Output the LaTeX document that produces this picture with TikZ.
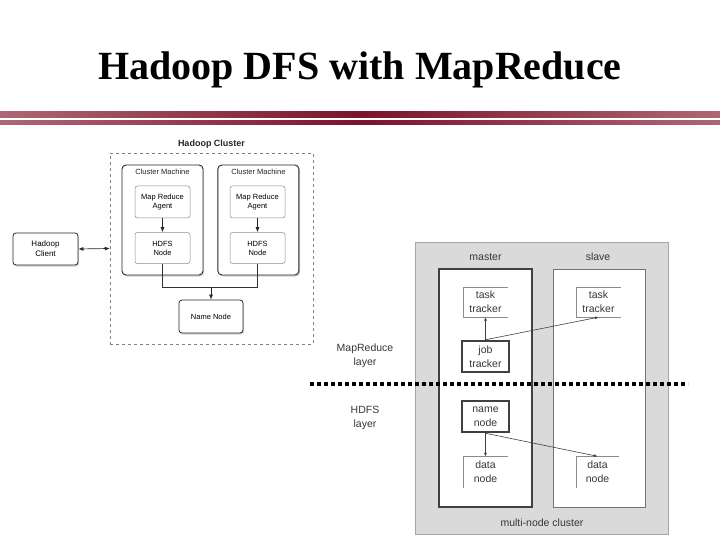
\documentclass[tikz,border=0pt]{standalone}
\usepackage{fontspec}
\setmainfont{Liberation Serif}
\newfontfamily\arial{Liberation Sans}
\usetikzlibrary{arrows.meta, positioning, shadows}
\definecolor{barlight}{RGB}{172,104,118}
\definecolor{bardark}{RGB}{122,20,42}
\definecolor{clgray}{RGB}{218,218,218}
\definecolor{txtgray}{RGB}{55,55,55}

\begin{document}
\begin{tikzpicture}[x=1pt, y=-1pt,
    machine/.style={rectangle, rounded corners=4pt, draw=black!85, line width=0.9pt, fill=white,
        minimum width=81pt, minimum height=110pt,
        drop shadow={shadow xshift=1.2pt, shadow yshift=-1.5pt, opacity=0.35}},
    agent/.style={rectangle, rounded corners=2.5pt, draw=black!45, line width=0.5pt, fill=white,
        minimum width=55pt, minimum height=32pt, inner sep=0pt, align=center,
        font=\arial\fontsize{7.5}{9}\selectfont},
    shadowbox/.style={agent, draw=black!85, line width=0.8pt, rounded corners=3pt,
        drop shadow={shadow xshift=1.2pt, shadow yshift=-1.5pt, opacity=0.35}},
    small/.style={font=\arial\fontsize{7.5}{9}\selectfont, text=black!85},
    lbl/.style={font=\arial\fontsize{10.5}{14}\selectfont, text=txtgray, align=center},
    tracker/.style={lbl, rectangle, minimum width=45pt, minimum height=30pt, inner sep=0pt},
    keynode/.style={tracker, draw=black!75, line width=2.5pt, fill=white, minimum width=47pt, minimum height=31pt},
    half/.style={draw=black!45, line width=0.6pt},
    flow/.style={draw=black!75, line width=0.6pt, -{Latex[length=3.5pt,width=3pt]}},
    link/.style={draw=black!85, line width=0.7pt, -{Latex[length=5pt,width=4pt]}}
]
\useasboundingbox (0,0) rectangle (720,540);

% title and bars
\node[anchor=base, font=\fontsize{40}{44}\selectfont\bfseries] (ttl) at (360,80) {Hadoop DFS with MapReduce};
\shade[left color=barlight, right color=barlight, middle color=bardark] (0,112) rectangle (720,118);
\shade[left color=barlight, right color=barlight, middle color=bardark] (0,121) rectangle (720,125);

% hadoop cluster
\node[rectangle, draw=black!50, dashed, line width=0.5pt, minimum width=203pt, minimum height=191pt] (hcl) at (211.5,248.5) {};
\node[font=\arial\fontsize{9}{10}\selectfont\bfseries, text=black!85] (hcllbl) at (211.5,144) {Hadoop Cluster};
\node[machine] (cm1) at (162.5,220) {};
\node[machine, right=14pt of cm1] (cm2) {};
\node[small, below=1pt of cm1.north] (cm1lbl) {Cluster Machine};
\node[small, below=1pt of cm2.north] (cm2lbl) {Cluster Machine};
\node[agent] (ag1) at (162.5,202) {Map Reduce\\Agent};
\node[agent] (ag2) at (257.5,202) {Map Reduce\\Agent};
\node[agent, below=14pt of ag1, minimum height=31pt] (hd1) {HDFS\\Node};
\node[agent, below=14pt of ag2, minimum height=31pt] (hd2) {HDFS\\Node};
\node[shadowbox, minimum width=64pt, minimum height=33pt] (nmn) at (211,316.5) {Name Node};
\node[shadowbox, minimum width=65pt, minimum height=32pt, font=\arial\fontsize{8}{10}\selectfont] (cli) at (45.5,249) {Hadoop\\Client};
\coordinate (join) at (211,287);
\draw[link] (ag1) -- (hd1);
\draw[link] (ag2) -- (hd2);
\draw[draw=black!80, line width=0.6pt] (hd1.south) |- (hd2.south |- join) -- (hd2.south);
\draw[link] (join) -- (nmn.north);
\draw[link, {Latex[length=5pt,width=4pt]}-{Latex[length=5pt,width=4pt]}] (cli.east) -- (hcl.west);

% multi-node cluster
\node[rectangle, draw=black!35, fill=clgray, line width=1pt, minimum width=253pt, minimum height=292pt] (mnc) at (541.5,388) {};
\node[rectangle, draw=black!75, fill=white, line width=2pt, minimum width=93pt, minimum height=238pt] (mst) at (485.5,388) {};
\node[rectangle, draw=black!55, fill=white, line width=0.8pt, minimum width=92pt, minimum height=238pt, right=20pt of mst] (slv) {};
\node[lbl] (mstlbl) at (485.5,257) {master};
\node[lbl] (slvlbl) at (598,257) {slave};
\node[lbl] (mnclbl) at (542,523) {multi-node cluster};
\node[tracker] (tt1) at (485.5,302) {task\\tracker};
\node[tracker] (tt2) at (598.5,302) {task\\tracker};
\node[keynode] (jt) at (485.5,356.5) {job\\tracker};
\node[keynode] (nn) at (485.5,416.5) {name\\node};
\node[tracker, minimum height=31pt] (dn1) at (485.5,472) {data\\node};
\node[tracker, minimum height=31pt, minimum width=43pt] (dn2) at (597.5,472) {data\\node};
\draw[half] (tt1.north east) -- (tt1.north west) -- (tt1.south west) -- (tt1.south east);
\draw[half] (tt2.north east) -- (tt2.north west) -- (tt2.south west) -- (tt2.south east);
\draw[half] (dn1.north east) -- (dn1.north west) -- (dn1.south west);
\draw[half] (dn2.north east) -- (dn2.north west) -- (dn2.south west);
\draw[flow] (jt.north) -- (tt1.south);
\draw[flow] (jt.north) -- (tt2.south);
\draw[flow] (nn.south) -- (dn1.north);
\draw[flow] (nn.south) -- (dn2.north);

% layers
\coordinate (layl) at (310,384);
\coordinate (layr) at (688,384);
\draw[line width=4pt, dash pattern=on 4pt off 3pt] (layl) -- (layr);
\node[lbl] (mrlay) at (365,356) {MapReduce\\layer};
\node[lbl] (hdlay) at (365,418) {HDFS\\layer};
\end{tikzpicture}
\end{document}
